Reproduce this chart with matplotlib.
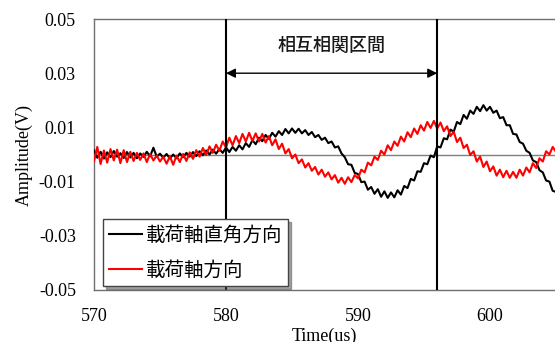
import matplotlib.pyplot as plt
import numpy as np

# time axis: 570 us to 605 us, one sample every 0.25 us
t_start, t_step = 570.0, 0.25

# 載荷軸直角方向 (black), values in mV, one row per microsecond
black_mv = [
    1.5, -1.2, 1.0, -1.5,
    0.8, -1.0, 1.3, -0.8,
    0.5, -1.3, 0.9, -1.1,
    0.6, -1.4, 0.4, -0.9,
    1.0, -0.7, 2.5, -0.8,
    0.3, -1.2, 0.2, -1.5,
    0.0, -1.4, 0.4, -1.0,
    0.6, -0.8, 0.9, -0.6,
    1.2, -0.3, 1.5, 0.0,
    1.8, 0.3, 2.0, 0.6,
    2.6, 0.9, 2.8, 1.4,
    3.4, 1.9, 4.2, 2.8,
    5.3, 3.8, 6.2, 4.9,
    7.2, 5.8, 8.0, 6.6,
    8.6, 7.2, 9.4, 7.8,
    9.6, 8.0, 9.5, 7.8,
    9.0, 7.2, 8.3, 6.4,
    7.2, 5.4, 6.2, 4.2,
    4.8, 2.6, 3.0, 0.4,
    -1.0, -3.6, -3.8, -6.8,
    -7.2, -10.2, -10.0, -13.0,
    -12.0, -14.5, -12.8, -15.6,
    -13.6, -16.0, -14.0, -15.8,
    -13.2, -14.8, -11.6, -12.4,
    -9.0, -9.6, -6.2, -6.4,
    -3.2, -3.6, -0.4, -1.0,
    3.0, 2.6, 6.0, 5.6,
    9.2, 8.4, 12.0, 11.2,
    14.6, 13.2, 16.2, 15.0,
    17.6, 16.0, 18.2, 16.2,
    17.6, 15.4, 16.2, 13.4,
    13.8, 10.8, 10.8, 7.6,
    7.4, 4.6, 4.0, 1.4,
    0.6, -2.2, -2.8, -5.8,
    -6.6, -9.6, -10.0, -13.4,
    -13.8,
]

# 載荷軸方向 (red), values in mV
red_mv = [
    -2.5, 2.8, -3.5, 1.5,
    -3.0, 2.0, -2.2, 1.8,
    -3.2, 1.6, -2.8, 1.0,
    -2.4, 0.6, -2.0, 0.4,
    -2.8, 0.2, -2.2, -0.4,
    -2.6, -0.8, -3.4, -0.6,
    -3.8, -0.4, -2.8, 0.2,
    -2.4, 0.8, -1.6, 1.6,
    -0.8, 2.4, -0.2, 3.0,
    0.6, 3.6, 1.4, 4.8,
    2.6, 6.2, 3.4, 6.8,
    4.2, 7.6, 4.8, 8.0,
    5.0, 7.8, 4.8, 7.6,
    4.4, 6.8, 3.4, 5.6,
    2.0, 4.0, 0.4, 2.0,
    -1.4, 0.0, -3.2, -1.8,
    -4.8, -3.2, -6.0, -4.6,
    -7.4, -5.6, -8.2, -6.6,
    -9.2, -7.6, -10.4, -8.6,
    -10.8, -8.4, -10.2, -7.6,
    -8.8, -5.6, -6.6, -3.0,
    -4.0, -0.8, -2.0, 1.4,
    0.0, 3.4, 1.6, 4.8,
    3.2, 6.6, 4.8, 8.2,
    6.4, 9.6, 7.6, 10.8,
    8.8, 12.0, 9.8, 12.4,
    9.6, 11.8, 8.6, 10.4,
    6.8, 8.4, 4.6, 6.2,
    2.4, 3.6, -0.2, 1.2,
    -2.6, -0.8, -4.6, -2.6,
    -6.2, -4.4, -7.8, -5.6,
    -8.4, -6.0, -8.6, -6.4,
    -8.6, -5.6, -7.8, -4.8,
    -6.6, -3.2, -5.0, -1.4,
    -2.6, 1.2, 0.0, 2.8,
    1.0,
]

window = [580, 596]          # 相互相関区間
yticks = [-0.05, -0.03, -0.01, 0.01, 0.03, 0.05]
xticks = [570, 580, 590, 600]

black = np.array(black_mv) / 1000
red = np.array(red_mv) / 1000
t = t_start + t_step * np.arange(len(black))

serif = 'Liberation Serif'
cjk = ['Noto Sans CJK JP', 'DejaVu Sans']

fig = plt.figure(figsize=(5.55, 3.42), dpi=100)
ax = fig.add_axes([94/555, 1 - 290/342, 1 - 94/555, 271/342])

ax.axhline(0, color='#7f7f7f', lw=1.0, zorder=1)
li1, = ax.plot(t, black, color='black', lw=1.5, label='載荷軸直角方向', zorder=3)
li2, = ax.plot(t, red, color='#ff0000', lw=1.5, label='載荷軸方向', zorder=3)
for x in window:
    ax.axvline(x, color='black', lw=1.5, zorder=4)

ax.annotate('', xy=(window[0], 0.03), xytext=(window[1], 0.03),
            arrowprops=dict(arrowstyle='<|-|>', color='black', lw=1.0,
                            mutation_scale=14, shrinkA=0, shrinkB=0))
ax.text(sum(window) / 2, 0.0402, '相互相関区間', ha='center', va='center',
        fontsize=13, family=cjk, fontweight='medium', color='#1a1a1a')

ax.set_xlim(570, 570 + (555 - 94) / 13.2)
ax.set_ylim(-0.05, 0.05)
ax.set_xticks(xticks)
ax.set_yticks(yticks)
ax.set_yticklabels(['%.2f' % v for v in yticks])
ax.tick_params(length=0, pad=13, labelsize=13)
for lab in ax.get_xticklabels() + ax.get_yticklabels():
    lab.set_family(serif)

ax.set_xlabel('Time(us)', family=serif, fontsize=13, labelpad=2)
ax.set_ylabel('Amplitude(V)', family=serif, fontsize=13, labelpad=4)

ax.spines['right'].set_visible(False)
for s in ['left', 'top', 'bottom']:
    ax.spines[s].set_color('#6f6f6f')
    ax.spines[s].set_linewidth(1.0)

leg = ax.legend(loc='upper left', bbox_to_anchor=(9/461, 71/271),
                borderaxespad=0, fancybox=False, shadow=True,
                prop={'family': cjk, 'size': 14}, handlelength=1.7,
                handletextpad=0.2, borderpad=0.3, labelspacing=0.7)
leg.get_frame().set_edgecolor('#444444')
leg.get_frame().set_linewidth(1.0)
leg.set_zorder(5)

fig.savefig('out.png', dpi=100)
